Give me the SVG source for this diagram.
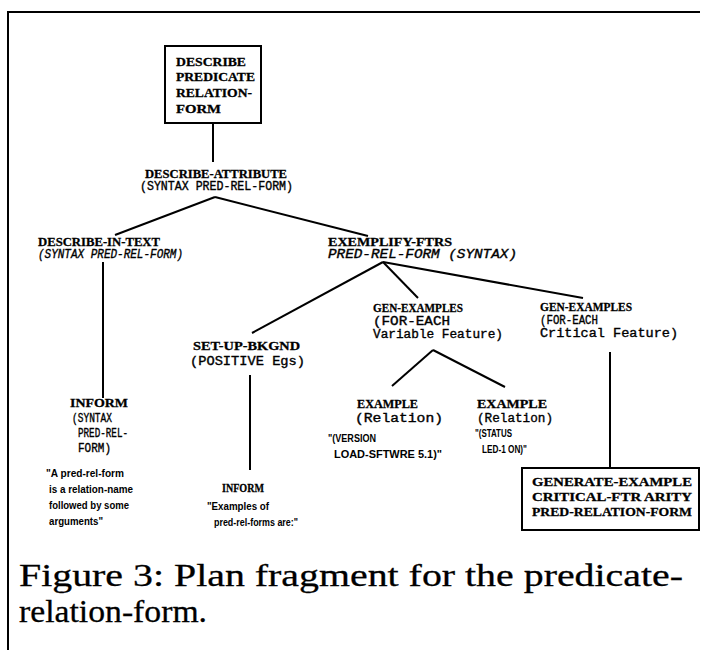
<svg xmlns="http://www.w3.org/2000/svg" width="707" height="650" viewBox="0 0 707 650">
<style>
.b{font-family:"Liberation Serif",serif;font-weight:bold;font-size:13px;fill:#000;stroke:#000;stroke-width:0.3}
.m{font-family:"Liberation Mono",monospace;font-size:12px;fill:#000;stroke:#000;stroke-width:0.35}
.mi{font-family:"Liberation Mono",monospace;font-style:italic;font-size:12px;fill:#000;stroke:#000;stroke-width:0.35}
.q{font-family:"Liberation Sans",sans-serif;font-weight:bold;font-size:11px;fill:#000}
.cap{font-family:"Liberation Serif",serif;font-size:32px;fill:#000;stroke:#000;stroke-width:0.3}
.ln{stroke:#000;stroke-width:2;fill:none}
.box{stroke:#000;stroke-width:2;fill:#fff}
</style>
<rect width="707" height="650" fill="#fff"/>
<g id="frame">
<path class="ln" d="M8,650 V12 H700"/>
</g>
<g id="connectors">
<line class="ln" x1="213" y1="123" x2="213" y2="162"/>
<line class="ln" x1="215" y1="197" x2="115" y2="235"/>
<line class="ln" x1="215" y1="197" x2="368" y2="236"/>
<line class="ln" x1="103" y1="262" x2="103" y2="398"/>
<line class="ln" x1="383" y1="262" x2="252" y2="333"/>
<line class="ln" x1="383" y1="262" x2="418" y2="298"/>
<line class="ln" x1="383" y1="262" x2="583" y2="298"/>
<line class="ln" x1="250" y1="375" x2="250" y2="470"/>
<line class="ln" x1="433" y1="350" x2="392" y2="386"/>
<line class="ln" x1="433" y1="350" x2="505" y2="387"/>
<line class="ln" x1="610" y1="352" x2="610" y2="468"/>
</g>
<g id="n-root">
<rect class="box" x="165" y="46" width="96" height="77"/>
<text class="b" x="176" y="66" textLength="70" lengthAdjust="spacingAndGlyphs">DESCRIBE</text>
<text class="b" x="176" y="81" textLength="79" lengthAdjust="spacingAndGlyphs">PREDICATE</text>
<text class="b" x="176" y="97" textLength="76" lengthAdjust="spacingAndGlyphs">RELATION-</text>
<text class="b" x="176" y="113" textLength="45" lengthAdjust="spacingAndGlyphs">FORM</text>
</g>
<g id="n-describe-attribute">
<text class="b" x="145" y="178" textLength="142" lengthAdjust="spacingAndGlyphs">DESCRIBE-ATTRIBUTE</text>
<text class="m" x="140" y="190" textLength="153" lengthAdjust="spacingAndGlyphs">(SYNTAX PRED-REL-FORM)</text>
</g>
<g id="n-describe-in-text">
<text class="b" x="38" y="246" textLength="122" lengthAdjust="spacingAndGlyphs">DESCRIBE-IN-TEXT</text>
<text class="mi" x="38" y="258" textLength="145" lengthAdjust="spacingAndGlyphs">(SYNTAX PRED-REL-FORM)</text>
</g>
<g id="n-exemplify-ftrs">
<text class="b" x="328" y="246" textLength="124" lengthAdjust="spacingAndGlyphs">EXEMPLIFY-FTRS</text>
<text class="mi" x="328" y="258" textLength="189" lengthAdjust="spacingAndGlyphs">PRED-REL-FORM (SYNTAX)</text>
</g>
<g id="n-inform-syntax">
<text class="b" x="70" y="407" textLength="58" lengthAdjust="spacingAndGlyphs">INFORM</text>
<text class="m" x="72" y="422" textLength="40" lengthAdjust="spacingAndGlyphs">(SYNTAX</text>
<text class="m" x="78" y="437" textLength="50" lengthAdjust="spacingAndGlyphs">PRED-REL-</text>
<text class="m" x="78" y="452" textLength="33" lengthAdjust="spacingAndGlyphs">FORM)</text>
<text class="q" x="46" y="477" textLength="78" lengthAdjust="spacingAndGlyphs">"A pred-rel-form</text>
<text class="q" x="49" y="493" textLength="84" lengthAdjust="spacingAndGlyphs">is a relation-name</text>
<text class="q" x="49" y="509" textLength="80" lengthAdjust="spacingAndGlyphs">followed by some</text>
<text class="q" x="49" y="525" textLength="54" lengthAdjust="spacingAndGlyphs">arguments"</text>
</g>
<g id="n-set-up-bkgnd">
<text class="b" x="193" y="350" textLength="107" lengthAdjust="spacingAndGlyphs">SET-UP-BKGND</text>
<text class="m" x="190" y="365" textLength="115" lengthAdjust="spacingAndGlyphs">(POSITIVE Egs)</text>
</g>
<g id="n-inform-examples">
<text class="b" x="222" y="492" textLength="42" lengthAdjust="spacingAndGlyphs">INFORM</text>
<text class="q" x="207" y="510" textLength="62" lengthAdjust="spacingAndGlyphs">"Examples of</text>
<text class="q" x="214" y="526" textLength="84" lengthAdjust="spacingAndGlyphs">pred-rel-forms are:"</text>
</g>
<g id="n-gen-examples-variable">
<text class="b" x="373" y="312" textLength="90" lengthAdjust="spacingAndGlyphs">GEN-EXAMPLES</text>
<text class="m" x="373" y="325" textLength="77" lengthAdjust="spacingAndGlyphs">(FOR-EACH</text>
<text class="m" x="373" y="338" textLength="130" lengthAdjust="spacingAndGlyphs">Variable Feature)</text>
</g>
<g id="n-gen-examples-critical">
<text class="b" x="540" y="311" textLength="92" lengthAdjust="spacingAndGlyphs">GEN-EXAMPLES</text>
<text class="m" x="540" y="324" textLength="58" lengthAdjust="spacingAndGlyphs">(FOR-EACH</text>
<text class="m" x="540" y="337" textLength="138" lengthAdjust="spacingAndGlyphs">Critical Feature)</text>
</g>
<g id="n-example-version">
<text class="b" x="357" y="408" textLength="61" lengthAdjust="spacingAndGlyphs">EXAMPLE</text>
<text class="m" x="355" y="422" textLength="88" lengthAdjust="spacingAndGlyphs">(Relation)</text>
<text class="q" x="328" y="442" textLength="48" lengthAdjust="spacingAndGlyphs">"(VERSION</text>
<text class="q" x="334" y="458" textLength="108" lengthAdjust="spacingAndGlyphs">LOAD-SFTWRE 5.1)"</text>
</g>
<g id="n-example-status">
<text class="b" x="477" y="408" textLength="70" lengthAdjust="spacingAndGlyphs">EXAMPLE</text>
<text class="m" x="477" y="422" textLength="76" lengthAdjust="spacingAndGlyphs">(Relation)</text>
<text class="q" x="475" y="437" textLength="37" lengthAdjust="spacingAndGlyphs">"(STATUS</text>
<text class="q" x="482" y="453" textLength="45" lengthAdjust="spacingAndGlyphs">LED-1 ON)"</text>
</g>
<g id="n-generate-example">
<rect class="box" x="522" y="468" width="177" height="62"/>
<text class="b" x="532" y="486" textLength="160" lengthAdjust="spacingAndGlyphs">GENERATE-EXAMPLE</text>
<text class="b" x="532" y="501" textLength="160" lengthAdjust="spacingAndGlyphs">CRITICAL-FTR ARITY</text>
<text class="b" x="532" y="516" textLength="160" lengthAdjust="spacingAndGlyphs">PRED-RELATION-FORM</text>
</g>
<g id="caption">
<text class="cap" x="19" y="586" textLength="664" lengthAdjust="spacingAndGlyphs">Figure 3: Plan fragment for the predicate-</text>
<text class="cap" x="19" y="622" textLength="188" lengthAdjust="spacingAndGlyphs">relation-form.</text>
</g>
</svg>
